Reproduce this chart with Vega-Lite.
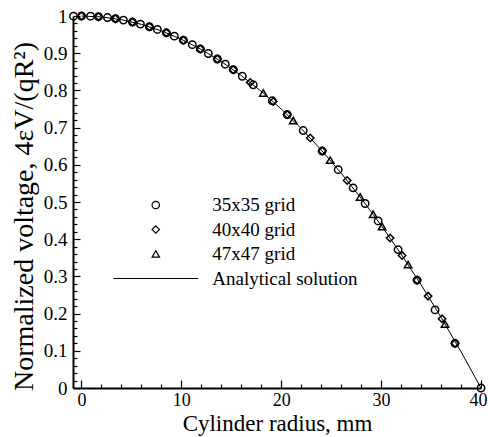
{
  "$schema": "https://vega.github.io/schema/vega-lite/v6.json",
  "width": 408,
  "height": 372,
  "autosize": "none",
  "padding": {"left": 73, "top": 16, "right": 7, "bottom": 49},
  "background": "white",
  "config": {
    "view": {"stroke": null},
    "axis": {
      "labelFont": "Liberation Serif",
      "labelFontSize": 19,
      "labelColor": "black",
      "titleFont": "Liberation Serif",
      "titleFontWeight": "normal",
      "titleColor": "black",
      "domainColor": "black",
      "domainWidth": 2,
      "tickColor": "black",
      "tickWidth": 1.2,
      "grid": false,
      "labelOverlap": false,
      "labelFlush": false
    },
    "legend": {
      "labelFont": "Liberation Serif",
      "labelFontSize": 19,
      "labelColor": "black"
    }
  },
  "datasets": {
    "analytical": [
      {"r": 0, "v": 1}, {"r": 2, "v": 0.9975}, {"r": 4, "v": 0.99}, {"r": 6, "v": 0.9775},
      {"r": 8, "v": 0.96}, {"r": 10, "v": 0.9375}, {"r": 12, "v": 0.91}, {"r": 14, "v": 0.8775},
      {"r": 16, "v": 0.84}, {"r": 18, "v": 0.7975}, {"r": 20, "v": 0.75}, {"r": 22, "v": 0.6975},
      {"r": 24, "v": 0.64}, {"r": 26, "v": 0.5775}, {"r": 28, "v": 0.51}, {"r": 30, "v": 0.4375},
      {"r": 32, "v": 0.36}, {"r": 34, "v": 0.2775}, {"r": 36, "v": 0.19}, {"r": 38, "v": 0.0975},
      {"r": 40, "v": 0}
    ],
    "grids": [
      {"grid": "35x35 grid", "r": -0.8, "v": 0.9996},
      {"grid": "35x35 grid", "r": 0, "v": 1},
      {"grid": "35x35 grid", "r": 0.9, "v": 0.9995},
      {"grid": "35x35 grid", "r": 1.7, "v": 0.9982},
      {"grid": "35x35 grid", "r": 2.6, "v": 0.9958},
      {"grid": "35x35 grid", "r": 3.4, "v": 0.9928},
      {"grid": "35x35 grid", "r": 4.2, "v": 0.989},
      {"grid": "35x35 grid", "r": 5.1, "v": 0.9837},
      {"grid": "35x35 grid", "r": 5.9, "v": 0.9782},
      {"grid": "35x35 grid", "r": 6.8, "v": 0.9711},
      {"grid": "35x35 grid", "r": 7.6, "v": 0.9639},
      {"grid": "35x35 grid", "r": 8.5, "v": 0.9548},
      {"grid": "35x35 grid", "r": 9.3, "v": 0.9459},
      {"grid": "35x35 grid", "r": 10.2, "v": 0.935},
      {"grid": "35x35 grid", "r": 11.1, "v": 0.923},
      {"grid": "35x35 grid", "r": 11.9, "v": 0.9115},
      {"grid": "35x35 grid", "r": 12.7, "v": 0.8992},
      {"grid": "35x35 grid", "r": 13.6, "v": 0.8844},
      {"grid": "35x35 grid", "r": 14.4, "v": 0.8704},
      {"grid": "35x35 grid", "r": 15.2, "v": 0.8556},
      {"grid": "35x35 grid", "r": 16.1, "v": 0.838},
      {"grid": "35x35 grid", "r": 17.2, "v": 0.815},
      {"grid": "35x35 grid", "r": 19.1, "v": 0.772},
      {"grid": "35x35 grid", "r": 20.6, "v": 0.735},
      {"grid": "35x35 grid", "r": 22.2, "v": 0.692},
      {"grid": "35x35 grid", "r": 24.1, "v": 0.637},
      {"grid": "35x35 grid", "r": 25.7, "v": 0.587},
      {"grid": "35x35 grid", "r": 27.2, "v": 0.538},
      {"grid": "35x35 grid", "r": 28.4, "v": 0.496},
      {"grid": "35x35 grid", "r": 29.7, "v": 0.449},
      {"grid": "35x35 grid", "r": 31.7, "v": 0.372},
      {"grid": "35x35 grid", "r": 33.6, "v": 0.29},
      {"grid": "35x35 grid", "r": 35.4, "v": 0.21},
      {"grid": "35x35 grid", "r": 37.4, "v": 0.12},
      {"grid": "35x35 grid", "r": 40, "v": 0},
      {"grid": "40x40 grid", "r": 0, "v": 1},
      {"grid": "40x40 grid", "r": 1.7, "v": 0.9982},
      {"grid": "40x40 grid", "r": 3.4, "v": 0.9928},
      {"grid": "40x40 grid", "r": 5.1, "v": 0.9837},
      {"grid": "40x40 grid", "r": 6.8, "v": 0.9711},
      {"grid": "40x40 grid", "r": 8.5, "v": 0.9548},
      {"grid": "40x40 grid", "r": 10.2, "v": 0.935},
      {"grid": "40x40 grid", "r": 11.9, "v": 0.9115},
      {"grid": "40x40 grid", "r": 13.6, "v": 0.8844},
      {"grid": "40x40 grid", "r": 15.2, "v": 0.8556},
      {"grid": "40x40 grid", "r": 16.9, "v": 0.8215},
      {"grid": "40x40 grid", "r": 19.2, "v": 0.77},
      {"grid": "40x40 grid", "r": 20.6, "v": 0.735},
      {"grid": "40x40 grid", "r": 22.9, "v": 0.672},
      {"grid": "40x40 grid", "r": 24.1, "v": 0.637},
      {"grid": "40x40 grid", "r": 26.6, "v": 0.558},
      {"grid": "40x40 grid", "r": 30.9, "v": 0.403},
      {"grid": "40x40 grid", "r": 32.1, "v": 0.356},
      {"grid": "40x40 grid", "r": 33.6, "v": 0.29},
      {"grid": "40x40 grid", "r": 34.7, "v": 0.247},
      {"grid": "40x40 grid", "r": 36.1, "v": 0.186},
      {"grid": "40x40 grid", "r": 37.4, "v": 0.12},
      {"grid": "47x47 grid", "r": 18.2, "v": 0.793},
      {"grid": "47x47 grid", "r": 21.2, "v": 0.719},
      {"grid": "47x47 grid", "r": 24.9, "v": 0.6125},
      {"grid": "47x47 grid", "r": 27.9, "v": 0.5135},
      {"grid": "47x47 grid", "r": 29.2, "v": 0.467},
      {"grid": "47x47 grid", "r": 30.1, "v": 0.434},
      {"grid": "47x47 grid", "r": 32.7, "v": 0.332},
      {"grid": "47x47 grid", "r": 36.4, "v": 0.172}
    ]
  },
  "encoding": {
    "x": {
      "field": "r",
      "type": "quantitative",
      "scale": {"domain": [-0.85, 40], "nice": false, "zero": false},
      "axis": {
        "title": "Cylinder radius, mm",
        "titleFontSize": 23,
        "titleY": 42,
        "titleBaseline": "alphabetic",
        "values": [0, 2, 4, 6, 8, 10, 12, 14, 16, 18, 20, 22, 24, 26, 28, 30, 32, 34, 36, 38, 40],
        "labelExpr": "datum.value % 10 === 0 ? datum.label : ''",
        "tickSize": {"condition": {"test": "datum.value % 10 === 0", "value": -8}, "value": -4},
        "labelOffset": {"condition": {"test": "datum.value === 40", "value": -3}, "value": 0},
        "labelFontSize": 18,
        "labelBaseline": "alphabetic",
        "labelPadding": 25
      }
    },
    "y": {
      "field": "v",
      "type": "quantitative",
      "scale": {"domain": [0, 1], "nice": false},
      "axis": {
        "title": "Normalized voltage, 4εV/(qR²)",
        "titleFontSize": 28,
        "titleX": -41,
        "titleY": 200,
        "titleBaseline": "alphabetic",
        "titleAlign": "center",
        "values": [0, 0.02, 0.04, 0.06, 0.08, 0.1, 0.12, 0.14, 0.16, 0.18, 0.2, 0.22, 0.24, 0.26, 0.28, 0.3, 0.32, 0.34, 0.36, 0.38, 0.4, 0.42, 0.44, 0.46, 0.48, 0.5, 0.52, 0.54, 0.56, 0.58, 0.6, 0.62, 0.64, 0.66, 0.68, 0.7, 0.72, 0.74, 0.76, 0.78, 0.8, 0.82, 0.84, 0.86, 0.88, 0.9, 0.92, 0.94, 0.96, 0.98, 1],
        "labelExpr": "abs(datum.value * 10 - round(datum.value * 10)) < 0.001 ? format(datum.value, '~g') : ''",
        "tickSize": {"condition": {"test": "abs(datum.value * 10 - round(datum.value * 10)) < 0.001", "value": -7}, "value": -4},
        "labelPadding": 13
      }
    }
  },
  "layer": [
    {
      "data": {"name": "analytical"},
      "mark": {"type": "line", "color": "black", "strokeWidth": 1}
    },
    {
      "data": {"name": "grids"},
      "mark": {"type": "point", "filled": false, "color": "black", "size": 55, "strokeWidth": 1.5, "opacity": 1},
      "encoding": {
        "shape": {
          "field": "grid",
          "type": "nominal",
          "scale": {
            "domain": ["35x35 grid", "40x40 grid", "47x47 grid", "Analytical solution"],
            "range": ["circle", "diamond", "triangle-up", "M-11.4,0L11.4,0"]
          },
          "legend": {
            "title": null,
            "orient": "none",
            "legendX": 73.3,
            "legendY": 179.5,
            "padding": 0,
            "symbolSize": 55,
            "symbolStrokeColor": "black",
            "symbolStrokeWidth": 1.2,
            "symbolFillColor": "transparent",
            "labelOffset": 47,
            "rowPadding": 4.5
          }
        }
      }
    }
  ]
}
